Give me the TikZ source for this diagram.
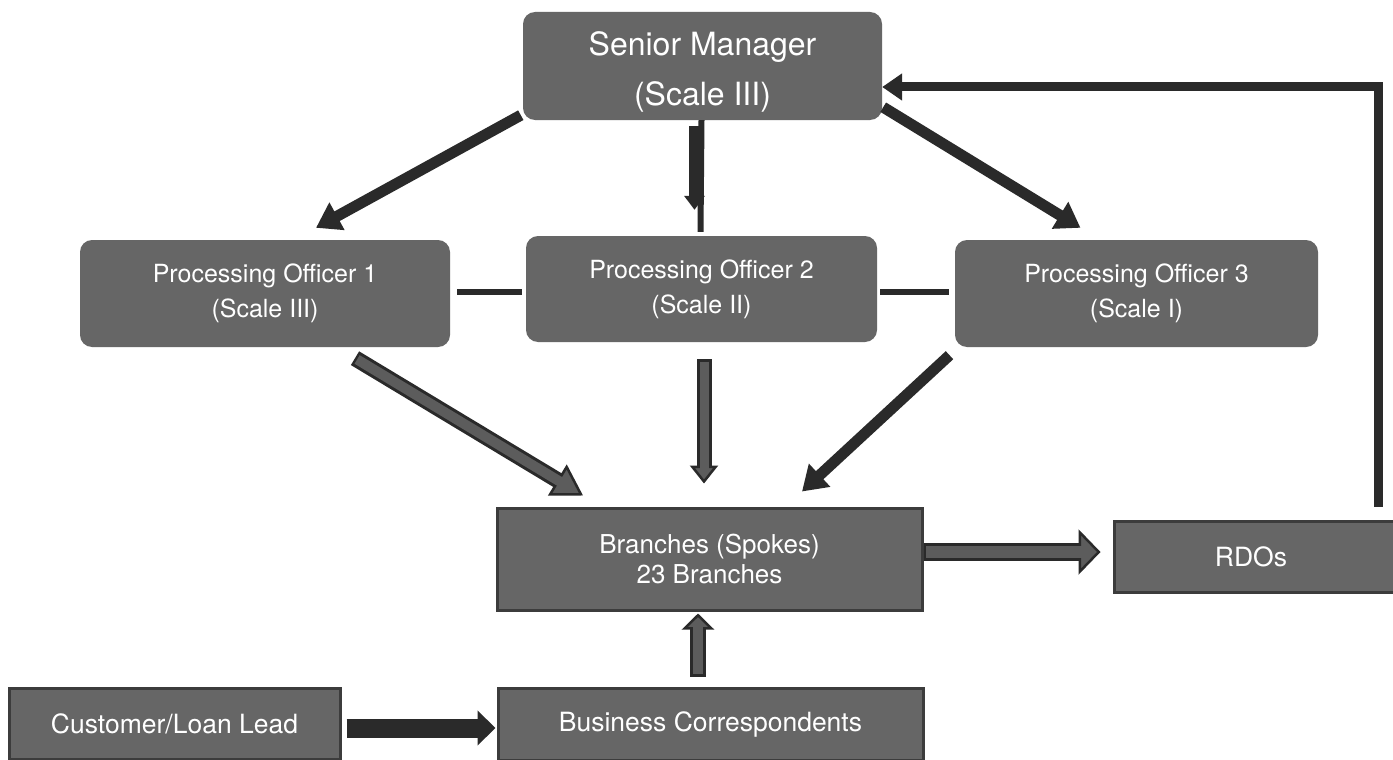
\documentclass[tikz,border=0pt]{standalone}
\usepackage{fontspec}
\setmainfont{TeX Gyre Heros}
\usetikzlibrary{arrows.meta,calc}
\definecolor{boxgray}{HTML}{666666}
\definecolor{dark}{HTML}{2A2A2A}
\definecolor{edgegray}{HTML}{3C3C3C}
\definecolor{shaftgray}{HTML}{5C5C5C}
\newcommand\fatconn[6]{%
  \draw[draw=dark, line width=#3, -{Triangle[length=#5,width=#6,fill=shaftgray,line width'=2.5pt]}] #1 -- #2;
  \draw[shaftgray, line width=#4, shorten >=#5-4pt, shorten <=2.5pt] #1 -- #2;}
\begin{document}
\begin{tikzpicture}[x=1pt,y=-1pt,
  rbox/.style={rectangle, rounded corners=12pt, fill=boxgray, text=white, align=center, inner sep=0pt, font=\fontsize{25}{35}\selectfont},
  sbox/.style={rectangle, fill=boxgray, draw=edgegray, line width=3pt, text=white, align=center, inner sep=0pt, font=\fontsize{26.5}{30}\selectfont},
  darr/.style={draw=dark, line width=11pt, -{Triangle[length=24pt,width=30pt]}},
  link/.style={draw=dark, line width=6pt}
]
\useasboundingbox (0,0) rectangle (1393,760);
\fill[white] (0,0) rectangle (1393,760);
\clip (0,0) rectangle (1393,760);

% nodes
\node[rbox, minimum width=359pt, minimum height=108pt,
  label={[yshift=-6pt, text=white, align=center, font=\fontsize{32}{50}\selectfont]center:Senior Manager\\(Scale III)}] (sm) at (702.5,66) {};
\node[rbox, minimum width=370pt, minimum height=107pt] (po1) at (265,293.5) {Processing Officer 1\\(Scale III)};
\node[rbox, minimum width=351pt, minimum height=106pt] (po2) at (701.5,289) {Processing Officer 2\\(Scale II)};
\node[rbox, minimum width=363pt, minimum height=107pt] (po3) at (1136.5,293.5) {Processing Officer 3\\(Scale I)};
\node[sbox, minimum width=425pt, minimum height=102pt, font=\fontsize{26}{30}\selectfont] (br) at (709.5,559) {Branches (Spokes)\\23 Branches};
\node[sbox, minimum width=286pt, minimum height=71pt] (rdo) at (1257,556.5) {\hspace*{-12pt}RDOs};
\node[sbox, minimum width=331pt, minimum height=71pt] (cust) at (174.5,723.5) {Customer/Loan Lead};
\node[sbox, minimum width=425pt, minimum height=72pt] (bc) at (710.5,724) {Business Correspondents};

% senior manager to officers
\draw[darr] ([xshift=-2pt,yshift=5pt]sm.south west) -- ([xshift=51pt,yshift=12pt]po1.north);
\draw[dark, line width=6pt] ([xshift=-1pt]sm.south) -- ([xshift=-1pt,yshift=4pt]po2.north);
\draw[darr, line width=12pt, -{Triangle[length=14pt,width=20pt]}] ([xshift=-8pt,yshift=-6pt]sm.south) -- ([xshift=-7pt,yshift=26pt]po2.north);
\draw[darr] ([xshift=1pt,yshift=13pt]sm.south east) -- ([xshift=-56pt,yshift=12pt]po3.north);

% officer links
\draw[link] ([xshift=7pt,yshift=1.5pt]po1.east) -- ([xshift=-4pt,yshift=-3pt]po2.west);
\draw[link] ([xshift=3pt,yshift=-3pt]po2.east) -- ([xshift=-6pt,yshift=1.5pt]po3.west);

% officers to branches
\fatconn{([xshift=90pt,yshift=-11pt]po1.south)}{([xshift=-126.5pt,yshift=11pt]br.north)}{16pt}{10pt}{30pt}{36pt}
\fatconn{([xshift=2.5pt,yshift=-17pt]po2.south)}{([xshift=-5.5pt,yshift=23pt]br.north)}{15pt}{9pt}{18pt}{28pt}
\draw[darr] ([xshift=-187pt,yshift=-8pt]po3.south) -- ([xshift=92.5pt,yshift=15pt]br.north);

% branches to RDOs
\fatconn{([yshift=7pt]br.east)}{([xshift=-12pt,yshift=4.5pt]rdo.west)}{18pt}{12pt}{22pt}{45pt}

% RDO feedback to senior manager
\draw[draw=dark, line width=9pt, line join=miter, -{Triangle[length=20pt,width=26pt]}]
  ([xshift=121pt,yshift=13pt]rdo.north) |- ([yshift=-21pt]sm.east);

% bottom
\fatconn{([xshift=-12.5pt,yshift=10pt]bc.north)}{([xshift=-11.5pt,yshift=-2pt]br.south)}{16pt}{10pt}{16pt}{32pt}
\draw[draw=dark, line width=19pt, -{Triangle[length=18pt,width=34pt]}] ([xshift=5pt,yshift=-4.5pt]cust.east) -- ([xshift=-1pt,yshift=-4pt]bc.west);
\end{tikzpicture}
\end{document}
